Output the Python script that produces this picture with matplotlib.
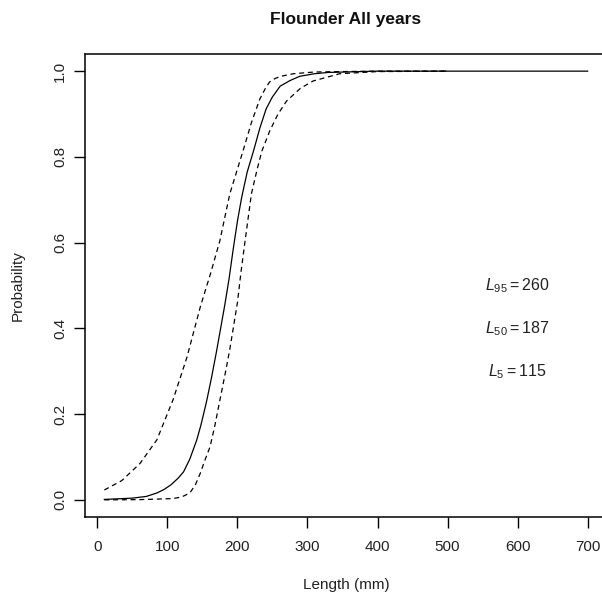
import matplotlib
matplotlib.use("Agg")
import matplotlib.pyplot as plt

plt.rcParams.update({
    "font.family": ["Liberation Sans", "DejaVu Sans"],
    "font.size": 11,
    "mathtext.fontset": "custom",
    "mathtext.rm": "Liberation Sans",
    "mathtext.it": "Liberation Sans:italic",
})

# fitted maturity ogive
solid_len = [10, 50, 70, 85, 95, 105, 115, 123, 132, 142, 148, 156, 163, 170, 176, 182, 188,
             194, 200, 206, 214, 223, 232, 241, 250, 261, 275, 289, 310, 330, 400, 500, 600, 700]
solid_p = [0.001, 0.004, 0.008, 0.016, 0.024, 0.035, 0.05, 0.065, 0.095, 0.14, 0.175, 0.23,
           0.285, 0.345, 0.4, 0.455, 0.515, 0.585, 0.65, 0.705, 0.765, 0.814, 0.867, 0.912,
           0.94, 0.965, 0.978, 0.988, 0.994, 0.997, 1.0, 1.0, 1.0, 1.0]

# upper confidence band
upper_len = [10, 35, 61, 85, 108, 128, 147, 162, 175, 189, 208, 220, 232, 240, 246, 254, 262,
             280, 310, 350, 400, 500]
upper_p = [0.023, 0.045, 0.085, 0.14, 0.233, 0.333, 0.45, 0.53, 0.605, 0.713, 0.814, 0.88,
           0.935, 0.96, 0.975, 0.983, 0.988, 0.994, 0.998, 0.999, 1.0, 1.0]

# lower confidence band
lower_len = [10, 60, 108, 115, 122, 132, 140, 147, 153, 161, 168, 175, 182, 189, 195, 200, 205,
             211, 220, 228, 235, 246, 258, 270, 290, 308, 346, 400, 500]
lower_p = [0.0, 0.0005, 0.003, 0.005, 0.008, 0.016, 0.035, 0.062, 0.09, 0.124, 0.175, 0.233,
           0.29, 0.35, 0.41, 0.46, 0.53, 0.605, 0.714, 0.77, 0.814, 0.86, 0.90, 0.93, 0.96,
           0.977, 0.994, 0.999, 1.0]

labels = [r"$L_{95}=260$", r"$L_{50}=187$", r"$L_{5}=115$"]
label_y = [0.5, 0.4, 0.3]
label_x = 600

W, H = 602, 596
fig = plt.figure(figsize=(W / 100, H / 100), dpi=100)
ax = fig.add_axes([85 / W, (H - 517) / H, (607 - 85) / W, (517 - 54) / H])

ax.plot(solid_len, solid_p, color="black", linewidth=0.9)
ax.plot(upper_len, upper_p, color="black", linewidth=0.9, dashes=(4, 3))
ax.plot(lower_len, lower_p, color="black", linewidth=0.9, dashes=(4, 3))

for t, y in zip(labels, label_y):
    ax.text(label_x, y, t, ha="center", va="center", fontsize=11.5, color="#222222")

ax.set_xlim(-17.6, 727.6)
ax.set_ylim(-0.04, 1.04)
ax.set_xticks(range(0, 701, 100))
ax.set_yticks([0.0, 0.2, 0.4, 0.6, 0.8, 1.0])
ax.set_yticklabels(["0.0", "0.2", "0.4", "0.6", "0.8", "1.0"], rotation=90, va="center")
ax.tick_params(direction="out", length=8, width=1, colors="black", labelcolor="#222222",
               labelsize=11)
ax.tick_params(axis="x", pad=8.5)
ax.tick_params(axis="y", pad=5)
for s in ax.spines.values():
    s.set_linewidth(1.1)

cx = (85 + 607) / 2 / W
fig.text(cx, (H - 24) / H, "Flounder All years", ha="center", va="baseline",
         fontsize=12.5, fontweight="bold", color="#111111")
fig.text(cx, (H - 585) / H, "Length (mm)", ha="center", va="center", fontsize=11,
         color="#222222")
fig.text(18 / W, 1 - 285.5 / H, "Probability", ha="center", va="center",
         rotation=90, fontsize=11, color="#222222")

fig.savefig("out.png", dpi=100)
plt.close(fig)
